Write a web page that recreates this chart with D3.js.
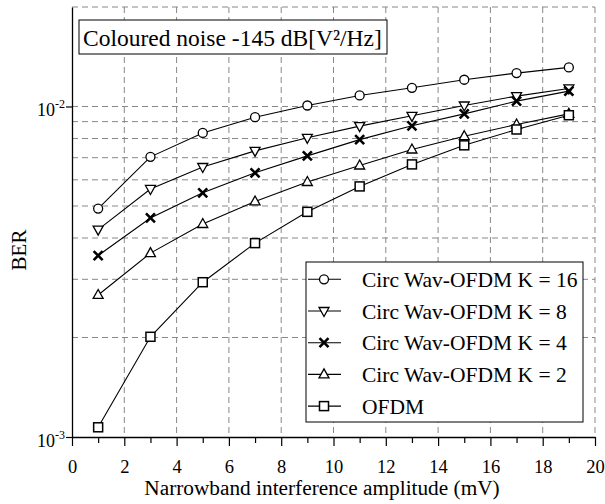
<!DOCTYPE html>
<html>
<head>
<meta charset="utf-8">
<script src="https://cdn.jsdelivr.net/npm/d3@7"></script>
<style>
  body { margin: 0; background: #fff; }
  text { font-family: "Liberation Serif", "Times New Roman", serif; fill: #000; }
</style>
</head>
<body>
<svg id="chart" width="605" height="504"></svg>
<script>
// x values (mV)
const amplitudes = [1, 3, 5, 7, 9, 11, 13, 15, 17, 19];

// BER per scheme
const berK16 = [4.91e-3, 7.04e-3, 8.32e-3, 9.28e-3, 1.007e-2, 1.08e-2, 1.139e-2, 1.205e-2, 1.262e-2, 1.313e-2];
const berK8 = [4.24e-3, 5.63e-3, 6.56e-3, 7.34e-3, 8.04e-3, 8.72e-3, 9.37e-3, 1.007e-2, 1.075e-2, 1.134e-2];
const berK4 = [3.54e-3, 4.60e-3, 5.48e-3, 6.30e-3, 7.09e-3, 7.94e-3, 8.74e-3, 9.50e-3, 1.038e-2, 1.113e-2];
const berK2 = [2.69e-3, 3.60e-3, 4.41e-3, 5.16e-3, 5.91e-3, 6.63e-3, 7.41e-3, 8.13e-3, 8.82e-3, 9.50e-3];
const berOFDM = [1.07e-3, 2.01e-3, 2.94e-3, 3.86e-3, 4.80e-3, 5.73e-3, 6.68e-3, 7.63e-3, 8.52e-3, 9.41e-3];

const seriesNames = ["Circ Wav-OFDM K = 16", "Circ Wav-OFDM K = 8", "Circ Wav-OFDM K = 4", "Circ Wav-OFDM K = 2", "OFDM"];
const seriesMarkers = ["circle", "triDown", "cross", "triUp", "square"];
const seriesValues = [berK16, berK8, berK4, berK2, berOFDM];

const xTicks = [0, 2, 4, 6, 8, 10, 12, 14, 16, 18, 20];
const xMinorTicks = [1, 3, 5, 7, 9, 11, 13, 15, 17, 19];
const yTicks = [1e-3, 1e-2];
const yGrid = [2e-3, 3e-3, 4e-3, 5e-3, 6e-3, 7e-3, 8e-3, 9e-3, 1e-2, 2e-2];

const titleText = "Coloured noise -145 dB[V\u00b2/Hz]";

const svg = d3.select("#chart");
const margin = { top: 7, right: 10, bottom: 67, left: 72 };
const width = 605 - margin.left - margin.right;
const height = 504 - margin.top - margin.bottom;
const g = svg.append("g").attr("transform", `translate(${margin.left},${margin.top})`);

const x = d3.scaleLinear().domain([0, 20]).range([0, width]);
const y = d3.scaleLog().domain([1e-3, 2e-2]).range([height, 0]);

// dashed grid
g.append("g").selectAll("line")
    .data(yGrid)
    .enter().append("line")
    .attr("x1", 0).attr("x2", width)
    .attr("y1", d => y(d)).attr("y2", d => y(d))
    .attr("stroke", "#888").attr("stroke-dasharray", "6,4");

g.append("g").selectAll("line")
    .data(xTicks.slice(1))
    .enter().append("line")
    .attr("x1", d => x(d)).attr("x2", d => x(d))
    .attr("y1", 0).attr("y2", height)
    .attr("stroke", "#888").attr("stroke-dasharray", "6,4");

// x axis
const xAxis = g.append("g")
    .attr("transform", `translate(0,${height})`)
    .call(d3.axisBottom(x).tickValues(xTicks).tickSize(9).tickPadding(14).tickSizeOuter(0));
g.append("g")
    .attr("transform", `translate(0,${height})`)
    .call(d3.axisBottom(x).tickValues(xMinorTicks).tickSize(6).tickFormat("").tickSizeOuter(0))
    .select(".domain").remove();

// y axis
const yAxis = g.append("g")
    .call(d3.axisLeft(y).tickValues(yTicks).tickSize(6).tickFormat("").tickSizeOuter(0));

g.selectAll(".domain").attr("stroke", "#000").attr("stroke-width", 1.3);
g.selectAll(".tick line").attr("stroke", "#000").attr("stroke-width", 1.2);
xAxis.selectAll(".tick text").style("font-size", "18.5px").style("font-family", "Liberation Serif");

yAxis.selectAll(".tick").each(function (d) {
    const t = d3.select(this).append("text")
        .attr("x", -7).attr("y", 9)
        .attr("text-anchor", "end")
        .style("font-size", "18px");
    t.append("tspan").text("10");
    t.append("tspan").attr("dy", -8).style("font-size", "12px").text(Math.round(Math.log10(d)));
});

// axis titles
svg.append("text")
    .attr("x", 322)
    .attr("y", 495)
    .attr("text-anchor", "middle")
    .style("font-size", "21.3px")
    .text("Narrowband interference amplitude (mV)");

svg.append("text")
    .attr("transform", `translate(26,250) rotate(-90)`)
    .attr("text-anchor", "middle")
    .style("font-size", "21px")
    .text("BER");

// marker drawing
function drawMarker(sel, type) {
    if (type === "circle") {
        sel.append("circle").attr("r", 4.5).attr("fill", "#fff").attr("stroke", "#000").attr("stroke-width", 1.3);
    } else if (type === "square") {
        sel.append("rect").attr("x", -4.5).attr("y", -4.5).attr("width", 9).attr("height", 9)
            .attr("fill", "#fff").attr("stroke", "#000").attr("stroke-width", 1.5);
    } else if (type === "triUp") {
        sel.append("path").attr("d", "M0,-5.5L5,3.5L-5,3.5Z").attr("fill", "#fff").attr("stroke", "#000").attr("stroke-width", 1.3);
    } else if (type === "triDown") {
        sel.append("path").attr("d", "M0,5.5L5,-3.5L-5,-3.5Z").attr("fill", "#fff").attr("stroke", "#000").attr("stroke-width", 1.3);
    } else if (type === "cross") {
        sel.append("path").attr("d", "M-4.5,-4.5L4.5,4.5M-4.5,4.5L4.5,-4.5").attr("stroke", "#000").attr("stroke-width", 2.6);
    }
}

const line = d3.line().x(d => x(d[0])).y(d => y(d[1]));

seriesValues.forEach((vals, i) => {
    const pts = amplitudes.map((a, j) => [a, vals[j]]);
    g.append("path")
        .datum(pts)
        .attr("d", line)
        .attr("fill", "none")
        .attr("stroke", "#000")
        .attr("stroke-width", 1.1);
    g.append("g").selectAll("g")
        .data(pts)
        .enter().append("g")
        .attr("transform", d => `translate(${x(d[0])},${y(d[1])})`)
        .each(function () { drawMarker(d3.select(this), seriesMarkers[i]); });
});

// title box
const titleG = svg.append("g");
titleG.append("rect")
    .attr("x", 79).attr("y", 20).attr("width", 308).attr("height", 34)
    .attr("fill", "#fff").attr("stroke", "#000").attr("stroke-width", 1);
titleG.append("text")
    .attr("x", 83).attr("y", 46)
    .style("font-size", "23.5px")
    .text(titleText);

// legend
const legend = svg.append("g");
legend.append("rect")
    .attr("x", 306).attr("y", 262).attr("width", 277).attr("height", 160)
    .attr("fill", "#fff").attr("stroke", "#000").attr("stroke-width", 1);
seriesNames.forEach((name, i) => {
    const row = legend.append("g").attr("transform", `translate(0,${279.3 + i * 31.7})`);
    row.append("line").attr("x1", 308).attr("x2", 341).attr("y1", 0).attr("y2", 0)
        .attr("stroke", "#000").attr("stroke-width", 1.1);
    drawMarker(row.append("g").attr("transform", "translate(324,0)"), seriesMarkers[i]);
    row.append("text").attr("x", 362).attr("y", 7.5).style("font-size", "21.5px").text(name);
});
</script>
</body>
</html>
